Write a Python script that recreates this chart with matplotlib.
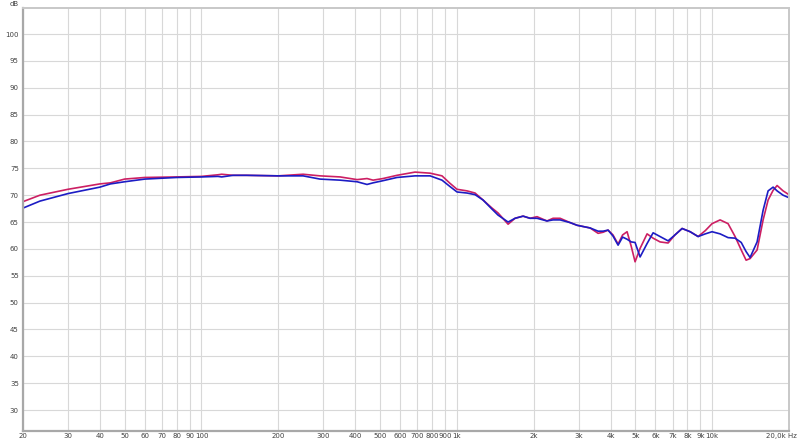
import numpy as np
import matplotlib
matplotlib.use("Agg")
import matplotlib.pyplot as plt

# frequency points (Hz)
freq = [20, 23.3, 30, 40, 44, 50, 60, 80, 100, 116, 120, 133, 150, 200, 250, 291,
        349, 407, 445, 470, 514, 583, 686, 786, 875, 941, 1002, 1097, 1179, 1267,
        1374, 1450, 1588, 1691, 1818, 1936, 2062, 2256, 2382, 2538, 2777, 2958,
        3327, 3576, 3740, 3912, 4090, 4282, 4460, 4644, 4820, 4991, 5222, 5562, 5873,
        6254, 6722, 7150, 7628, 8200, 8812, 9400, 9992, 10744, 11546, 12300, 13000,
        13584, 14080, 15000, 15836, 16564, 17328, 17966, 18965, 19840]

# left channel (red) and right channel (blue), dB
red_db = [68.8, 70.0, 71.1, 72.1, 72.3, 73.0, 73.3, 73.4, 73.5, 73.8, 73.9, 73.7, 73.7,
          73.6, 73.9, 73.6, 73.4, 72.9, 73.1, 72.8, 73.1, 73.7, 74.3, 74.1, 73.6, 72.2,
          71.1, 70.8, 70.4, 69.1, 67.6, 66.7, 64.6, 65.7, 66.1, 65.7, 66.0, 65.2, 65.7,
          65.7, 64.9, 64.4, 63.9, 62.9, 63.1, 63.5, 62.6, 60.9, 62.6, 63.2, 60.5, 57.6,
          60.1, 62.8, 62.0, 61.3, 61.1, 62.6, 63.8, 63.2, 62.3, 63.4, 64.7, 65.4, 64.7,
          62.3, 59.8, 57.9, 58.2, 59.8, 65.4, 69.1, 70.9, 71.8, 70.8, 70.2]
blue_db = [67.6, 68.9, 70.3, 71.5, 72.1, 72.5, 73.0, 73.3, 73.4, 73.5, 73.4, 73.7, 73.7,
           73.6, 73.6, 73.0, 72.8, 72.5, 72.0, 72.3, 72.7, 73.3, 73.6, 73.6, 72.8, 71.6,
           70.6, 70.4, 70.1, 69.1, 67.4, 66.3, 65.0, 65.7, 66.1, 65.7, 65.7, 65.2, 65.4,
           65.4, 64.9, 64.4, 63.9, 63.3, 63.3, 63.5, 62.4, 60.7, 62.2, 61.8, 61.3, 61.2,
           58.5, 61.0, 63.0, 62.3, 61.5, 62.6, 63.8, 63.2, 62.3, 62.8, 63.2, 62.8, 62.1,
           62.0, 61.2, 59.5, 58.4, 61.3, 67.2, 70.8, 71.5, 70.8, 70.0, 69.6]

x_ticks = [20, 30, 40, 50, 60, 70, 80, 90, 100, 200, 300, 400, 500, 600, 700, 800, 900,
           1000, 2000, 3000, 4000, 5000, 6000, 7000, 8000, 9000, 10000, 20000]
x_labels = ["20", "30", "40", "50", "60", "70", "80", "90", "100", "200", "300", "400",
            "500", "600", "700", "800", "900", "1k", "2k", "3k", "4k", "5k", "6k", "7k",
            "8k", "9k", "10k", ""]
y_ticks = list(range(30, 101, 5))

fig = plt.figure(figsize=(8, 4.43), dpi=100)
ax = fig.add_axes([23 / 800, 1 - 431 / 443, (789 - 23) / 800, (431 - 8) / 443])

ax.plot(freq, red_db, color="#cc1f63", lw=1.2)
ax.plot(freq, blue_db, color="#1c1cc4", lw=1.2)

ax.set_xscale("log")
ax.set_xlim(20, 20000)
ax.set_ylim(26.1, 104.85)
ax.set_xticks(x_ticks)
ax.set_xticklabels(x_labels)
ax.xaxis.set_minor_locator(matplotlib.ticker.NullLocator())
ax.set_yticks(y_ticks)
ax.grid(True, color="#d8d8d8", lw=0.8)
ax.set_axisbelow(True)
ax.tick_params(length=0, labelsize=5, colors="#404040")
ax.tick_params(axis="x", pad=1.5)
ax.tick_params(axis="y", pad=3)

for side in ["left", "bottom"]:
    ax.spines[side].set_color("#a8a8a8")
    ax.spines[side].set_linewidth(1.6)
for side in ["top", "right"]:
    ax.spines[side].set_color("#c8c8c8")
    ax.spines[side].set_linewidth(1.4)

fig.text(14 / 800, 1 - 4 / 443, "dB", fontsize=5, color="#404040", ha="center", va="center")
fig.text(797 / 800, 1 - 436 / 443, "20,0k Hz", fontsize=5, color="#404040",
         ha="right", va="center")

fig.savefig("out.png", dpi=100)
